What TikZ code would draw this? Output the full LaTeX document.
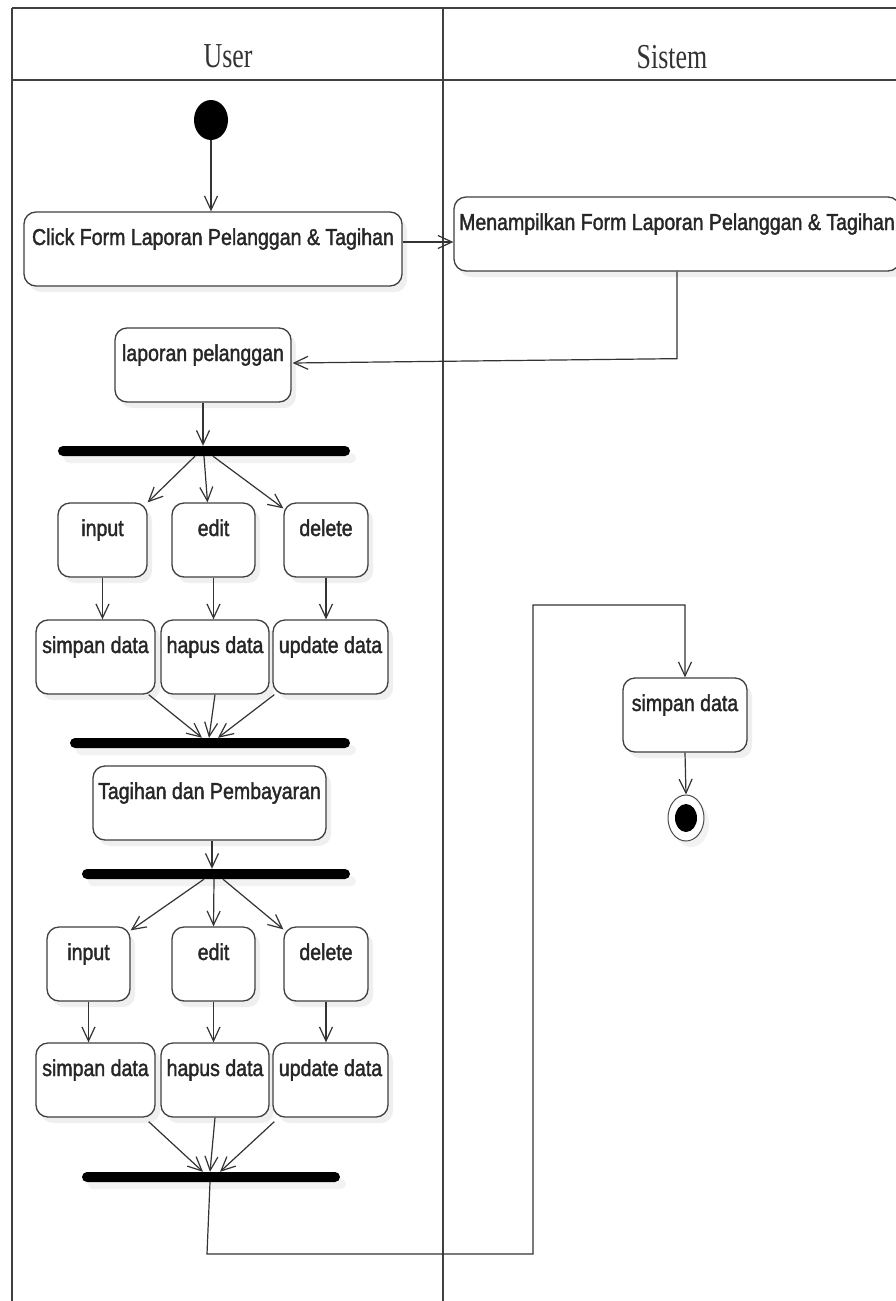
\documentclass[tikz,border=0pt]{standalone}
\usepackage{fontspec}
\newfontfamily\boxfont{Liberation Sans}[FakeStretch=0.85,FakeBold=1.6]
\newfontfamily\headfont{Liberation Serif}[FakeStretch=0.74]
\usetikzlibrary{arrows.meta,shadows,calc,shapes.geometric}
\begin{document}
\begin{tikzpicture}[x=1pt,y=-1pt,
  lane/.style={draw=black!75, line width=1.4pt},
  act/.style={draw=black!75, line width=1.3pt, rounded corners=12pt, fill=white,
    font=\boxfont\fontsize{23}{26}\selectfont, text=black!85,
    inner xsep=0pt, inner ysep=0pt, text height=33pt, text depth=41pt,
    drop shadow={shadow xshift=5pt, shadow yshift=-6pt, opacity=0.12}},
  bar/.style={fill=black, rounded corners=5pt, minimum height=10pt, inner sep=0pt,
    drop shadow={shadow xshift=6pt, shadow yshift=-7pt, opacity=0.10}},
  arr/.style={draw=black!80, line width=1.2pt,
    -{Straight Barb[length=14pt,width=13pt,line width=1.2pt]}},
  head/.style={font=\headfont\fontsize{35}{38}\selectfont, text=black!80}
]
\useasboundingbox (0,0) rectangle (896,1301);
\fill[white] (0,0) rectangle (896,1301);
% swimlanes
\draw[lane] (12,8) -- (896,8);
\draw[lane] (12,80) -- (896,80);
\draw[lane] (12,8) -- (12,1301);
\draw[lane] (443,8) -- (443,1301);
\node[head] (huser) at (228,56) {User};
\node[head] (hsis) at (672,57) {Sistem};
% initial node
\node[ellipse, fill=black, minimum width=34pt, minimum height=40pt, inner sep=0pt] (start) at (211,120) {};
% activities
\node[act, minimum width=378pt] (click) at (213,249) {Click Form Laporan Pelanggan \& Tagihan};
\node[act, minimum width=446pt] (menampil) at (677,234) {Menampilkan Form Laporan Pelanggan \& Tagihan};
\node[act, minimum width=176pt] (laporan) at (203,365) {laporan pelanggan};
\node[bar, minimum width=292pt] (bar1) at (204,451) {};
\node[act, minimum width=89pt] (input1) at (102.5,540) {input};
\node[act, minimum width=83pt] (edit1) at (213.5,540) {edit};
\node[act, minimum width=84pt] (delete1) at (326,540) {delete};
\node[act, minimum width=119pt] (simpan1) at (95.5,657) {simpan data};
\node[act, minimum width=108pt] (hapus1) at (215,657) {hapus data};
\node[act, minimum width=115pt] (update1) at (330.5,657) {update data};
\node[bar, minimum width=280pt] (bar2) at (210,743) {};
\node[act, minimum width=233pt] (tagihan) at (209.5,803) {Tagihan dan Pembayaran};
\node[bar, minimum width=268pt] (bar3) at (216,874) {};
\node[act, minimum width=83pt] (input2) at (88.5,964) {input};
\node[act, minimum width=83pt] (edit2) at (213.5,964) {edit};
\node[act, minimum width=84pt] (delete2) at (326,964) {delete};
\node[act, minimum width=119pt] (simpan2) at (95.5,1080) {simpan data};
\node[act, minimum width=108pt] (hapus2) at (215,1080) {hapus data};
\node[act, minimum width=115pt] (update2) at (330.5,1080) {update data};
\node[bar, minimum width=258pt] (bar4) at (211,1177) {};
\node[act, minimum width=124pt] (simpanS) at (685,715) {simpan data};
% final node
\node[ellipse, draw=black!70, line width=1pt, fill=white, minimum width=36pt, minimum height=46pt, inner sep=0pt,
  drop shadow={shadow xshift=5pt, shadow yshift=-6pt, opacity=0.10}] (end) at (686,818) {};
\node[ellipse, fill=black, minimum width=22pt, minimum height=28pt, inner sep=0pt] (endin) at (end) {};
% connectors
\draw[arr] (start.south) -- (start.south |- click.north);
\draw[arr] ($(click.east)+(0,-7)$) -- ($(menampil.west)+(0,8)$);
\draw[arr] (menampil.south) -- ++(0,87) coordinate (m1) -- ($(laporan.east)+(1,-2)$);
\draw[arr] (laporan.south) -- (laporan.south |- bar1.north);
\draw[arr] ($(bar1.south)+(-9,0)$) -- (input1.north east);
\draw[arr] (bar1.south) -- ($(edit1.north)+(-6,0)$);
\draw[arr] ($(bar1.south)+(9,0)$) -- ($(delete1.north west)+(0,6)$);
\draw[arr] (input1.south) -- (input1.south |- simpan1.north);
\draw[arr] (edit1.south) -- (edit1.south |- hapus1.north);
\draw[arr] (delete1.south) -- (delete1.south |- update1.north);
\draw[arr] ($(simpan1.south east)+(-7,0)$) -- ($(bar2.north)+(-8,0)$);
\draw[arr] (hapus1.south) -- ($(bar2.north)+(-1,0)$);
\draw[arr] ($(update1.south west)+(2,0)$) -- ($(bar2.north)+(8,0)$);
\draw[arr] ($(tagihan.south)+(2.5,0)$) -- ($(bar3.north)+(-4,0)$);
\draw[arr] ($(bar3.south)+(-12,0)$) -- ($(input2.north east)+(0,4)$);
\draw[arr] ($(bar3.south)+(-2,0)$) -- (edit2.north);
\draw[arr] ($(bar3.south)+(7,0)$) -- ($(delete2.north west)+(0,3)$);
\draw[arr] (input2.south) -- (input2.south |- simpan2.north);
\draw[arr] (edit2.south) -- (edit2.south |- hapus2.north);
\draw[arr] (delete2.south) -- (delete2.south |- update2.north);
\draw[arr] ($(simpan2.south east)+(-7,4)$) -- ($(bar4.north)+(-8,0)$);
\draw[arr] (hapus2.south) -- ($(bar4.north)+(-1,0)$);
\draw[arr] ($(update2.south west)+(2,4)$) -- ($(bar4.north)+(9,0)$);
\coordinate (c1) at (207,1254);
\coordinate (c2) at (533,605);
\draw[arr] ($(bar4.south)+(-1,0)$) -- (c1) -| (c2) -| (simpanS.north);
\draw[arr] (simpanS.south) -- (end.north);
\end{tikzpicture}
\end{document}
